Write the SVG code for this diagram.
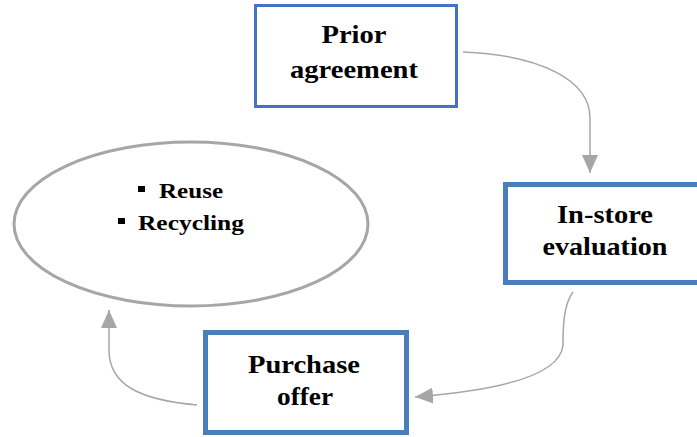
<svg xmlns="http://www.w3.org/2000/svg" width="697" height="437" viewBox="0 0 697 437">
<style>
.box{fill:#fff;stroke:#4a7ebb;}
.t{font-family:"Liberation Serif","Times New Roman",serif;font-weight:bold;font-size:25px;fill:#000;text-anchor:middle;}
.b{font-family:"Liberation Serif","Times New Roman",serif;font-weight:bold;font-size:22px;fill:#000;}
.c{fill:none;stroke:#a6a6a6;stroke-width:1.5;marker-end:url(#ah);}
</style>
<defs>
<marker id="ah" viewBox="0 0 18 16" refX="18" refY="8" markerWidth="18" markerHeight="16" markerUnits="userSpaceOnUse" orient="auto">
<path d="M0,0 L18,8 L0,16 Z" fill="#a6a6a6"/>
</marker>
</defs>
<rect width="697" height="437" fill="#fff"/>
<g id="connectors">
<path class="c" d="M463,52 C540,55 590,80 590,118 L590,173"/>
<path class="c" d="M573,292 C563,305 563,330 563,345 C560,380 480,392 415,397"/>
<path class="c" d="M197,405 C140,400 109,385 109,350 L109,310"/>
</g>
<g id="outcome">
<ellipse cx="191" cy="224" rx="177" ry="82" fill="#fff" stroke="#a6a6a6" stroke-width="3"/>
<rect x="138" y="186" width="7" height="6" fill="#000"/>
<text class="b" x="159" y="198" textLength="64" lengthAdjust="spacingAndGlyphs">Reuse</text>
<rect x="118" y="218" width="7" height="6" fill="#000"/>
<text class="b" x="138" y="230" textLength="106" lengthAdjust="spacingAndGlyphs">Recycling</text>
</g>
<g id="prior-agreement">
<rect class="box" x="255.5" y="5.5" width="201" height="101" stroke-width="3" style="stroke:#4472c4"/>
<text class="t" x="354" y="43" textLength="65" lengthAdjust="spacingAndGlyphs">Prior</text>
<text class="t" x="354" y="78" textLength="128" lengthAdjust="spacingAndGlyphs">agreement</text>
</g>
<g id="in-store-evaluation">
<rect class="box" x="505.5" y="184.5" width="200" height="98" stroke-width="5"/>
<text class="t" x="605" y="223" textLength="96" lengthAdjust="spacingAndGlyphs">In-store</text>
<text class="t" x="605" y="255" textLength="125" lengthAdjust="spacingAndGlyphs">evaluation</text>
</g>
<g id="purchase-offer">
<rect class="box" x="205.5" y="332.5" width="201" height="100" stroke-width="5"/>
<text class="t" x="304" y="373" textLength="112" lengthAdjust="spacingAndGlyphs">Purchase</text>
<text class="t" x="305" y="405" textLength="56" lengthAdjust="spacingAndGlyphs">offer</text>
</g>
</svg>
